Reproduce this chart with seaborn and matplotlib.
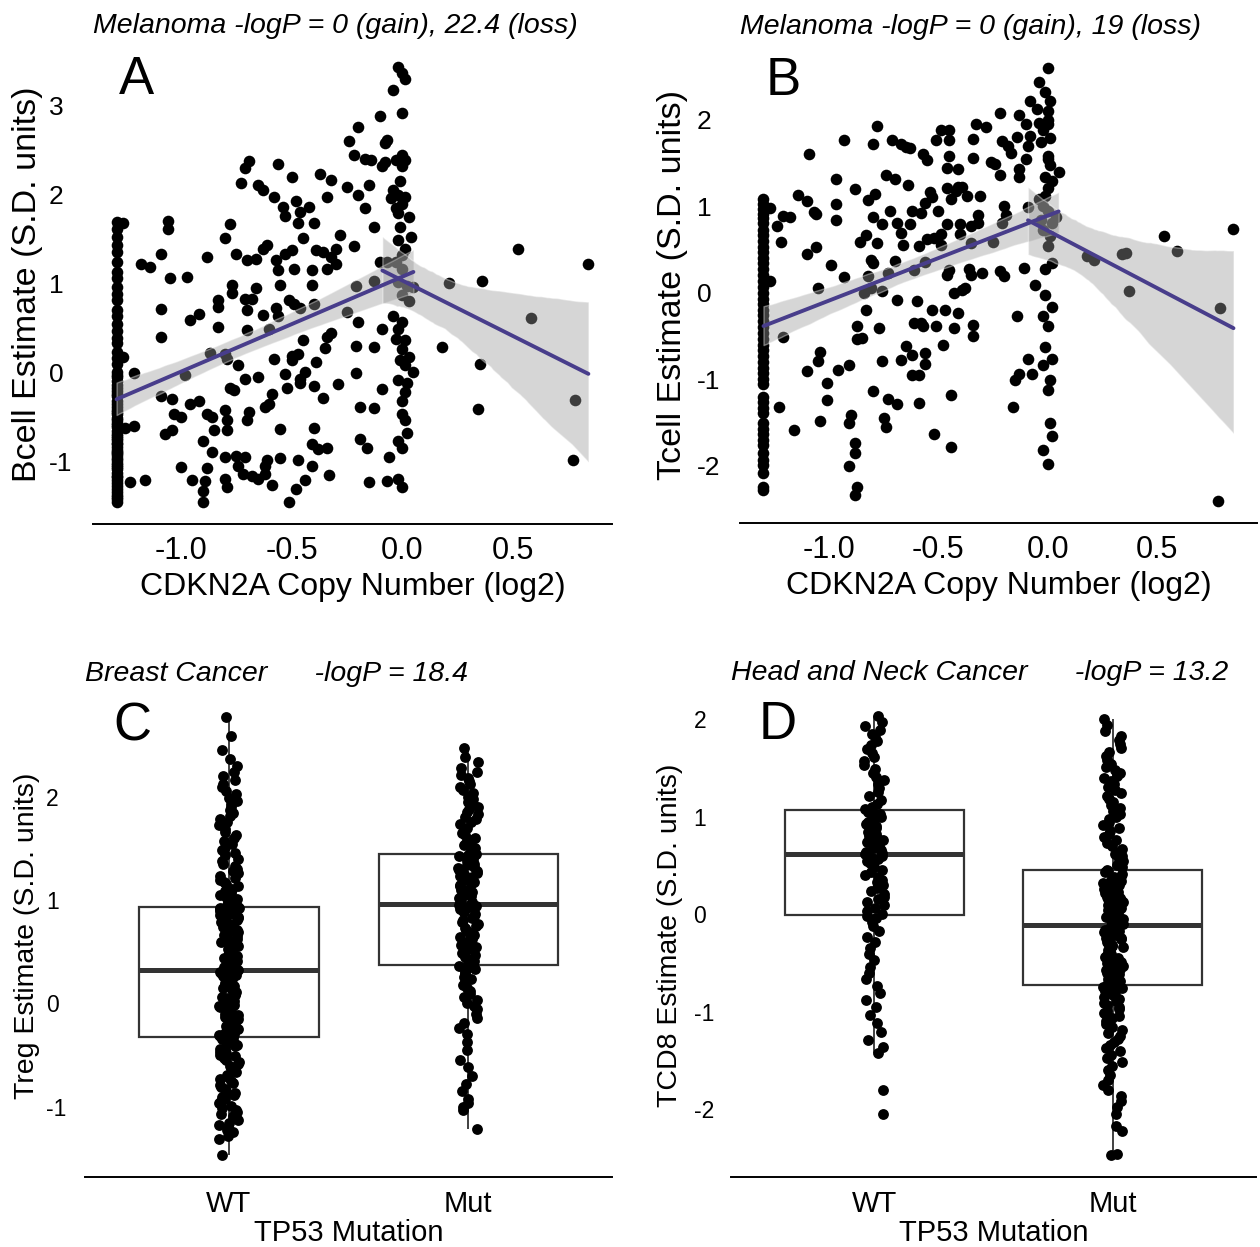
import matplotlib

matplotlib.use("Agg")
import matplotlib.pyplot as plt
import numpy as np
import pandas as pd
import seaborn as sns


OUTPUT_PATH = "out.png"
LINE_COLOR = "#483D8B"
BOX_EDGE = "#333333"
GROUPS = ["WT", "Mut"]
# copy-number calls overlap around zero, so the two fits share those points
LOSS_MAX = 0.05
GAIN_MIN = -0.095

# panel A: CDKN2A copy number (log2) vs Bcell estimate
a_points = [
    (-1.29, 1.69), (-1.29, 1.62), (-1.29, 1.53), (-1.29, 1.44), (-1.29, 1.36), (-1.29, 1.24),
    (-1.29, 1.13), (-1.29, 1.06), (-1.29, 0.96), (-1.29, 0.88), (-1.29, 0.81), (-1.29, 0.70),
    (-1.29, 0.64), (-1.29, 0.54), (-1.29, 0.47), (-1.29, 0.39), (-1.29, 0.33), (-1.29, 0.23),
    (-1.29, 0.16), (-1.29, 0.10), (-1.29, 0.01), (-1.29, -0.05), (-1.29, -0.14), (-1.29, -0.21),
    (-1.29, -0.27), (-1.29, -0.36), (-1.29, -0.42), (-1.29, -0.51), (-1.29, -0.57), (-1.29, -0.66),
    (-1.29, -0.71), (-1.29, -0.81), (-1.29, -0.87), (-1.29, -0.96), (-1.29, -1.02), (-1.29, -1.09),
    (-1.29, -1.18), (-1.29, -1.24), (-1.29, -1.34), (-1.29, -1.46),
    (-1.29, -0.32), (-1.29, -0.39), (-1.29, -0.47), (-1.29, -0.54), (-1.29, -0.61), (-1.29, -0.69),
    (-1.29, -0.76), (-1.29, -0.84), (-1.29, -0.91), (-1.29, -0.99), (-1.29, -1.06), (-1.29, -1.13),
    (-1.29, -1.21), (-1.29, -1.28), (-1.29, -1.38), (-1.29, -1.42), (-1.29, -0.03), (-1.29, -0.10),
    (-1.29, -0.18), (-1.29, -0.24), (-1.29, -0.45), (-1.29, -0.59), (-1.29, -0.74), (-1.29, -0.89),
    (-1.29, -1.04), (-1.29, -1.16), (-1.29, -1.31), (-1.29, -1.40), (-1.29, -0.79), (-1.29, -0.93),
    (-1.26, 1.68), (-1.26, 0.17), (-1.25, -0.62), (-1.21, -0.60), (-1.21, -0.01), (-1.23, -1.23),
    (-1.16, -1.21), (-1.18, 1.22), (-1.14, 1.19), (-1.09, 1.33), (-1.06, 1.71), (-1.06, 1.62),
    (-1.05, 1.06), (-1.09, 0.71), (-1.09, 0.40), (-1.09, -0.26), (-1.04, -0.30), (-1.03, -0.47),
    (-1.00, -0.50), (-1.07, -0.69), (-1.04, -0.65), (-1.00, -1.06), (-0.95, -1.21), (-0.97, 1.08),
    (-0.96, 0.59), (-0.92, 0.66), (-0.98, -0.03), (-0.96, -0.35), (-0.92, -0.32), (-0.90, -0.77),
    (-0.90, -1.33), (-0.90, -1.46), (-0.88, 1.30), (-0.88, -0.47), (-0.88, -1.07), (-0.89, -1.22),
    (-0.87, 0.22), (-0.86, -0.90), (-0.85, -0.65), (-0.86, -0.50), (-0.83, 0.81), (-0.83, 0.74),
    (-0.83, 0.51), (-0.80, -0.42), (-0.80, 1.51), (-0.78, 1.67), (-0.80, 0.21), (-0.79, 0.15),
    (-0.80, -0.95), (-0.80, -1.20), (-0.79, -1.29), (-0.79, -0.54), (-0.79, -0.65), (-0.78, -0.17),
    (-0.76, -0.20), (-0.77, 0.98), (-0.77, 0.90), (-0.75, 1.33), (-0.74, 0.08), (-0.75, -0.94),
    (-0.74, -1.05), (-0.73, 2.13), (-0.72, -1.14), (-0.71, -0.95), (-0.71, 0.83), (-0.71, -0.07),
    (-0.71, 2.30), (-0.69, 2.38), (-0.70, 1.27), (-0.70, 0.70), (-0.70, 0.48), (-0.69, -0.45),
    (-0.70, -0.54), (-0.68, -1.16), (-0.68, 0.83), (-0.66, 1.28), (-0.66, 0.95), (-0.65, -0.05),
    (-0.65, -1.20), (-0.65, 2.11), (-0.63, 2.05), (-0.63, 0.65), (-0.63, 1.39), (-0.62, -1.05),
    (-0.62, -1.14), (-0.61, -0.99), (-0.61, 1.43), (-0.62, -0.39), (-0.60, -0.35), (-0.60, 0.49),
    (-0.59, -0.24), (-0.59, -1.27), (-0.58, 1.97), (-0.58, 0.15), (-0.57, 0.72), (-0.56, 2.35),
    (-0.57, 1.27), (-0.56, 1.15), (-0.56, 0.63), (-0.55, -0.64), (-0.55, 0.98), (-0.55, -0.96),
    (-0.54, 1.86), (-0.53, 1.76), (-0.53, -0.02), (-0.53, 1.33), (-0.52, -0.17), (-0.51, 0.81),
    (-0.51, -1.46), (-0.50, 0.19), (-0.50, 0.14), (-0.50, 2.20), (-0.50, 1.38), (-0.49, 1.16),
    (-0.49, 0.77), (-0.48, -1.31), (-0.48, 1.93), (-0.47, 0.21), (-0.47, 1.68), (-0.46, 0.72),
    (-0.46, -0.07), (-0.46, 1.81), (-0.47, -0.99), (-0.46, -0.12), (-0.45, 1.51), (-0.45, 0.36),
    (-0.44, -1.21), (-0.44, 0.00), (-0.42, 1.86), (-0.41, 1.15), (-0.41, 0.99), (-0.41, -1.05),
    (-0.41, -0.80), (-0.40, 1.68), (-0.40, 0.77), (-0.40, -0.15), (-0.40, -0.62), (-0.39, 1.38),
    (-0.39, 0.12), (-0.38, -0.86), (-0.37, 2.23), (-0.36, -0.29), (-0.36, 1.36), (-0.35, 0.28),
    (-0.34, 1.17), (-0.34, 0.40), (-0.34, 1.98), (-0.34, -0.85), (-0.33, -1.15), (-0.32, 2.17),
    (-0.32, 1.30), (-0.32, 0.44), (-0.30, 1.39), (-0.30, 1.22), (-0.29, -0.13), (-0.28, 1.55),
    (-0.25, 2.09), (-0.25, 0.68), (-0.24, 2.60), (-0.22, 2.45), (-0.22, 1.42), (-0.21, 0.30),
    (-0.21, -0.01), (-0.21, 0.97), (-0.20, 2.00), (-0.20, 0.57), (-0.20, 2.76), (-0.19, -0.39),
    (-0.19, -0.75), (-0.17, 2.40), (-0.17, 1.85), (-0.16, -0.85), (-0.15, 2.11), (-0.15, -1.23),
    (-0.14, 2.39), (-0.13, 0.29), (-0.13, 1.03), (-0.13, -0.40), (-0.13, 1.64), (-0.10, 1.24),
    (-0.10, 2.89), (-0.09, 2.32), (-0.09, 0.49), (-0.09, -0.19), (-0.08, 2.58), (-0.07, 2.62),
    (-0.08, 2.37), (-0.07, 1.24), (-0.07, -1.22), (-0.06, -0.95),
    (-0.02, 3.44), (0.00, 3.37), (0.01, 3.30), (-0.04, 3.18), (0.00, 2.92), (0.00, 2.45),
    (0.01, 2.39), (-0.03, 2.39), (0.00, 2.32), (-0.01, 2.15), (-0.04, 2.05), (-0.02, 2.00),
    (0.01, 1.98), (-0.05, 1.96), (0.00, 1.90), (-0.03, 1.85), (-0.02, 1.79), (0.03, 1.75),
    (-0.01, 1.64), (0.04, 1.52), (-0.02, 1.49), (0.01, 1.39), (0.00, 1.32), (-0.03, 1.24),
    (0.00, 1.16), (-0.02, 1.02), (0.02, 0.97), (0.05, 0.96), (0.00, 0.87), (0.03, 0.80),
    (-0.04, 0.64), (0.00, 0.57), (-0.02, 0.49), (-0.03, 0.38), (0.01, 0.36), (0.00, 0.26),
    (0.03, 0.17), (-0.01, 0.14), (0.01, 0.08), (0.05, 0.00), (-0.02, -0.08), (0.02, -0.12),
    (0.01, -0.22), (0.00, -0.47), (0.01, -0.54), (0.02, -0.68), (-0.02, -0.77), (0.00, -0.85),
    (-0.02, -1.20), (0.00, -1.29), (0.00, -0.32),
    (0.18, 0.29), (0.21, 1.01), (0.36, 1.03), (0.52, 1.39), (0.58, 0.61), (0.35, 0.09),
    (0.34, -0.41), (0.78, -0.31), (0.77, -0.98), (0.84, 1.22),
]

# panel B: CDKN2A copy number (log2) vs Tcell estimate
b_points = [
    (-1.30, 1.08), (-1.30, 1.03), (-1.30, 0.97), (-1.30, 0.91), (-1.30, 0.86), (-1.30, 0.80),
    (-1.30, 0.73), (-1.30, 0.67), (-1.30, 0.60), (-1.30, 0.53), (-1.30, 0.47), (-1.30, 0.40),
    (-1.30, 0.34), (-1.30, 0.27), (-1.30, 0.20), (-1.30, 0.13), (-1.30, 0.07), (-1.30, 0.00),
    (-1.30, -0.07), (-1.30, -0.13), (-1.30, -0.20), (-1.30, -0.26), (-1.30, -0.33), (-1.30, -0.40),
    (-1.30, -0.47), (-1.30, -0.53), (-1.30, -0.60), (-1.30, -0.66), (-1.30, -0.73), (-1.30, -0.80),
    (-1.30, -0.87), (-1.30, -0.93), (-1.30, -1.00), (-1.30, -1.06), (-1.30, -1.20), (-1.30, -1.26),
    (-1.30, -1.33), (-1.30, -1.39), (-1.30, -1.51), (-1.30, -1.57), (-1.30, -1.63), (-1.30, -1.70),
    (-1.30, -1.76), (-1.30, -1.85), (-1.30, -1.93), (-1.30, -1.99), (-1.30, -2.08), (-1.30, -2.24),
    (-1.30, -2.28),
    (-1.27, 0.98), (-1.27, 0.13), (-1.24, 0.77), (-1.22, 0.59), (-1.23, -1.32), (-1.21, -0.51),
    (-1.21, 0.89), (-1.18, 0.87), (-1.16, -1.59), (-1.14, 1.13), (-1.10, 1.06), (-1.09, 1.60),
    (-1.10, 0.45), (-1.07, 0.93), (-1.06, 0.91), (-1.06, 0.53), (-1.05, 0.05), (-1.04, -0.68),
    (-1.05, -0.79), (-1.10, -0.90), (-1.04, -1.48), (-1.01, -1.04), (-1.01, -1.24), (-0.99, 0.32),
    (-0.97, 1.31), (-0.97, 1.02), (-0.97, 0.84), (-0.96, -0.89), (-0.93, 1.76), (-0.93, 0.18),
    (-0.91, -0.84), (-0.91, -2.00), (-0.91, -1.51), (-0.90, -1.41), (-0.88, 1.20), (-0.88, -1.74),
    (-0.88, -1.85), (-0.87, -0.38), (-0.87, -0.54), (-0.87, -2.25), (-0.88, -2.34), (-0.86, 0.59),
    (-0.85, -0.52), (-0.84, 0.00), (-0.83, -0.20), (-0.83, 0.67), (-0.82, 0.19), (-0.82, 1.07),
    (-0.81, 0.38), (-0.81, 0.05), (-0.80, -1.13), (-0.80, 1.72), (-0.80, 0.88), (-0.80, 0.34),
    (-0.79, 1.14), (-0.78, 1.93), (-0.78, 0.57), (-0.77, -0.41), (-0.76, -0.79), (-0.76, 0.79),
    (-0.76, 0.02), (-0.75, -1.45), (-0.74, 1.36), (-0.74, -1.55), (-0.73, 0.23), (-0.73, -1.23),
    (-0.72, 0.94), (-0.71, 1.77), (-0.70, 1.31), (-0.70, 0.37), (-0.69, -0.08), (-0.69, -1.28),
    (-0.69, 0.81), (-0.67, 1.72), (-0.67, 0.69), (-0.67, -0.78), (-0.66, 0.55), (-0.65, 1.68),
    (-0.65, -0.61), (-0.64, 1.24), (-0.63, 0.79), (-0.63, 1.67), (-0.62, -0.72), (-0.62, 0.94),
    (-0.62, -0.95), (-0.61, 0.26), (-0.61, -0.35), (-0.60, -0.10), (-0.59, 0.54), (-0.59, -1.27),
    (-0.59, -0.95), (-0.58, 0.92), (-0.58, -0.35), (-0.57, 1.60), (-0.57, -0.39), (-0.56, 0.35),
    (-0.56, -0.70), (-0.56, 1.04), (-0.56, -0.82), (-0.55, 1.53), (-0.55, 0.62), (-0.54, 1.16),
    (-0.53, -0.20), (-0.53, 1.11), (-0.52, 0.63), (-0.52, -1.63), (-0.51, 1.76), (-0.51, -0.38),
    (-0.50, 0.95), (-0.49, 0.55), (-0.49, 1.88), (-0.49, 0.68), (-0.48, -0.60), (-0.47, -0.20),
    (-0.46, 0.79), (-0.46, 1.44), (-0.46, 0.21), (-0.46, 1.21), (-0.45, 1.58), (-0.45, 1.88),
    (-0.45, 1.77), (-0.45, 0.26), (-0.44, -1.18), (-0.44, -1.78), (-0.44, 1.08), (-0.43, -0.41),
    (-0.43, 0.00), (-0.42, 1.17), (-0.41, -0.24), (-0.41, 1.43), (-0.41, 1.22), (-0.40, 0.79),
    (-0.40, 0.68), (-0.39, 0.03), (-0.39, 1.22), (-0.38, 0.05), (-0.37, 1.12), (-0.36, 0.27),
    (-0.35, 0.20), (-0.35, 0.77), (-0.35, 0.57), (-0.34, 1.78), (-0.34, 1.56), (-0.34, -0.37),
    (-0.34, -0.50), (-0.33, 1.95), (-0.32, 0.90), (-0.32, 0.81), (-0.31, 1.12), (-0.30, 0.23),
    (-0.28, 1.92), (-0.26, 1.51), (-0.25, 0.59), (-0.24, 1.49), (-0.22, 1.36), (-0.22, 2.08),
    (-0.22, 0.25), (-0.21, 1.75), (-0.21, 0.81), (-0.20, 0.19), (-0.20, 1.00), (-0.19, 0.90),
    (-0.18, 1.70), (-0.17, 1.61), (-0.16, -1.32), (-0.15, -1.01), (-0.14, 1.80), (-0.14, -0.27),
    (-0.13, -0.94), (-0.13, 1.34), (-0.13, 1.43), (-0.13, 2.05), (-0.11, 0.29), (-0.10, 1.95),
    (-0.10, 1.54), (-0.09, 1.69), (-0.09, -0.76), (-0.09, 0.99), (-0.08, 2.22), (-0.07, -0.94),
    (-0.06, 0.09), (-0.08, 1.81),
    (0.00, 2.60), (-0.04, 2.43), (-0.01, 2.32), (0.01, 2.22), (-0.05, 2.12), (0.00, 2.10),
    (0.00, 2.00), (-0.04, 1.96), (0.00, 1.95), (-0.02, 1.88), (0.01, 1.79), (-0.03, 1.74),
    (0.00, 1.58), (0.00, 1.54), (0.01, 1.47), (0.05, 1.39), (-0.01, 1.34), (0.02, 1.29),
    (0.00, 1.21), (-0.01, 1.12), (-0.04, 1.08), (-0.02, 1.00), (0.00, 0.94), (0.04, 0.88),
    (-0.03, 0.84), (0.02, 0.80), (-0.02, 0.73), (0.01, 0.65), (0.00, 0.54), (0.02, 0.34),
    (-0.01, 0.27), (-0.01, -0.03), (0.02, -0.17), (-0.02, -0.27), (0.00, -0.39), (-0.01, -0.63),
    (0.02, -0.76), (-0.02, -0.84), (0.01, -1.01), (0.00, -1.12), (0.01, -1.50), (0.02, -1.65),
    (-0.02, -1.82), (0.00, -1.98),
    (0.18, 0.42), (0.21, 0.38), (0.34, 0.45), (0.36, 0.46), (0.37, 0.02), (0.53, 0.66),
    (0.59, 0.48), (0.79, -0.18), (0.85, 0.74), (0.78, -2.41),
]

# panel C: Treg estimate by TP53 status (breast cancer)
c_wt = [
    -1.47, -1.31, -1.28, -1.25, -1.23, -1.20, -1.18, -1.16, -1.13, -1.11,
    -1.09, -1.07, -1.05, -1.03, -1.01, -0.99, -0.97, -0.95, -0.93, -0.91,
    -0.89, -0.87, -0.85, -0.83, -0.81, -0.79, -0.77, -0.75, -0.73, -0.71,
    -0.69, -0.67, -0.65, -0.63, -0.61, -0.59, -0.57, -0.55, -0.53, -0.51,
    -0.50, -0.48, -0.47, -0.45, -0.44, -0.43, -0.41, -0.40, -0.39, -0.38,
    -0.37, -0.36, -0.35, -0.345, -0.34,
    -0.32, -0.31, -0.30, -0.29, -0.27, -0.26, -0.25, -0.24, -0.22, -0.21,
    -0.20, -0.19, -0.17, -0.16, -0.15, -0.13, -0.12, -0.11, -0.10, -0.08,
    -0.07, -0.06, -0.04, -0.03, -0.02, 0.00, 0.01, 0.02, 0.04, 0.05,
    0.06, 0.08, 0.09, 0.10, 0.11, 0.13, 0.14, 0.15, 0.17, 0.18,
    0.19, 0.20, 0.22, 0.23, 0.24, 0.25, 0.26, 0.27, 0.28, 0.29,
    0.295, 0.30, 0.305, 0.31, 0.315,
    0.325, 0.34, 0.35, 0.36, 0.37, 0.39, 0.40, 0.41, 0.42, 0.44,
    0.45, 0.46, 0.47, 0.49, 0.50, 0.51, 0.52, 0.54, 0.55, 0.56,
    0.57, 0.59, 0.60, 0.61, 0.62, 0.64, 0.65, 0.66, 0.67, 0.69,
    0.70, 0.71, 0.72, 0.74, 0.75, 0.76, 0.77, 0.79, 0.80, 0.81,
    0.82, 0.83, 0.84, 0.85, 0.86, 0.87, 0.88, 0.89, 0.90, 0.905,
    0.91, 0.915, 0.92, 0.922, 0.925,
    0.935, 0.95, 0.97, 0.99, 1.01, 1.03, 1.05, 1.07, 1.09, 1.11,
    1.13, 1.15, 1.17, 1.19, 1.21, 1.23, 1.26, 1.28, 1.30, 1.33,
    1.35, 1.38, 1.40, 1.43, 1.45, 1.48, 1.51, 1.54, 1.57, 1.60,
    1.63, 1.66, 1.69, 1.72, 1.75, 1.78, 1.81, 1.84, 1.87, 1.90,
    1.93, 1.96, 1.99, 2.02, 2.05, 2.09, 2.12, 2.16, 2.20, 2.24,
    2.30, 2.36, 2.45, 2.59, 2.77,
]
c_mut = [
    -1.22, -1.03, -1.00, -0.97, -0.93, -0.85, -0.78, -0.70, -0.62, -0.55,
    -0.45, -0.38, -0.30, -0.24, -0.19, -0.14, -0.10, -0.06, -0.03, 0.00,
    0.03, 0.06, 0.09, 0.12, 0.15, 0.18, 0.21, 0.23, 0.25, 0.27,
    0.29, 0.31, 0.33, 0.35, 0.365,
    0.375, 0.39, 0.41, 0.43, 0.45, 0.47, 0.49, 0.51, 0.52, 0.54,
    0.56, 0.58, 0.60, 0.62, 0.64, 0.66, 0.67, 0.69, 0.71, 0.73,
    0.75, 0.77, 0.79, 0.81, 0.82, 0.84, 0.86, 0.88, 0.89, 0.91,
    0.92, 0.93, 0.94, 0.95, 0.955,
    0.965, 0.98, 0.99, 1.01, 1.02, 1.04, 1.05, 1.07, 1.08, 1.10,
    1.11, 1.13, 1.14, 1.16, 1.17, 1.19, 1.20, 1.22, 1.23, 1.25,
    1.26, 1.28, 1.29, 1.31, 1.32, 1.34, 1.35, 1.37, 1.38, 1.40,
    1.41, 1.42, 1.43, 1.44, 1.445,
    1.455, 1.48, 1.50, 1.53, 1.55, 1.58, 1.60, 1.63, 1.65, 1.68,
    1.70, 1.73, 1.75, 1.78, 1.80, 1.83, 1.85, 1.88, 1.90, 1.93,
    1.95, 1.98, 2.00, 2.03, 2.06, 2.09, 2.12, 2.15, 2.18, 2.21,
    2.24, 2.28, 2.33, 2.38, 2.47,
]

# panel D: TCD8 estimate by TP53 status (head and neck cancer)
d_wt = [
    -2.05, -1.80, -1.42, -1.36, -1.29, -1.21, -1.12, -1.03, -0.95, -0.88,
    -0.81, -0.74, -0.67, -0.60, -0.54, -0.47, -0.41, -0.35, -0.29, -0.23,
    -0.17, -0.12, -0.08, -0.04, -0.02,
    0.00, 0.03, 0.06, 0.09, 0.12, 0.15, 0.18, 0.21, 0.24, 0.27,
    0.30, 0.33, 0.35, 0.38, 0.40, 0.43, 0.45, 0.48, 0.50, 0.52,
    0.54, 0.56, 0.58, 0.60, 0.615,
    0.625, 0.64, 0.66, 0.68, 0.70, 0.72, 0.74, 0.76, 0.78, 0.80,
    0.82, 0.84, 0.86, 0.88, 0.90, 0.92, 0.94, 0.96, 0.98, 1.00,
    1.02, 1.03, 1.04, 1.05, 1.065,
    1.075, 1.10, 1.13, 1.17, 1.21, 1.25, 1.29, 1.33, 1.37, 1.41,
    1.45, 1.49, 1.53, 1.57, 1.61, 1.65, 1.69, 1.73, 1.77, 1.81,
    1.85, 1.89, 1.93, 1.97, 2.03,
]
d_mut = [
    -2.47, -2.46, -2.22, -2.17, -2.05, -1.98, -1.92, -1.86, -1.80, -1.75,
    -1.70, -1.65, -1.60, -1.56, -1.52, -1.48, -1.44, -1.40, -1.37, -1.34,
    -1.31, -1.28, -1.25, -1.22, -1.19, -1.16, -1.13, -1.10, -1.07, -1.04,
    -1.01, -0.99, -0.97, -0.95, -0.93, -0.91, -0.89, -0.87, -0.85, -0.83,
    -0.81, -0.80, -0.79, -0.78, -0.77, -0.76, -0.75, -0.745, -0.74, -0.735,
    -0.725, -0.71, -0.70, -0.69, -0.67, -0.66, -0.65, -0.64, -0.62, -0.61,
    -0.60, -0.58, -0.57, -0.56, -0.54, -0.53, -0.52, -0.50, -0.49, -0.48,
    -0.46, -0.45, -0.44, -0.42, -0.41, -0.40, -0.38, -0.37, -0.36, -0.34,
    -0.33, -0.32, -0.30, -0.29, -0.28, -0.26, -0.25, -0.24, -0.22, -0.21,
    -0.20, -0.19, -0.18, -0.17, -0.16, -0.15, -0.14, -0.13, -0.12, -0.115,
    -0.105, -0.09, -0.08, -0.07, -0.06, -0.05, -0.04, -0.03, -0.02, -0.01,
    0.00, 0.01, 0.02, 0.03, 0.04, 0.05, 0.06, 0.07, 0.08, 0.09,
    0.10, 0.11, 0.12, 0.13, 0.14, 0.15, 0.16, 0.17, 0.18, 0.19,
    0.20, 0.21, 0.22, 0.23, 0.24, 0.25, 0.26, 0.28, 0.29, 0.30,
    0.31, 0.32, 0.34, 0.35, 0.36, 0.38, 0.39, 0.41, 0.43, 0.445,
    0.455, 0.48, 0.50, 0.52, 0.54, 0.56, 0.58, 0.60, 0.62, 0.64,
    0.67, 0.70, 0.73, 0.76, 0.79, 0.82, 0.85, 0.88, 0.91, 0.94,
    0.97, 1.00, 1.03, 1.06, 1.09, 1.12, 1.15, 1.18, 1.21, 1.24,
    1.27, 1.30, 1.33, 1.36, 1.39, 1.42, 1.45, 1.48, 1.51, 1.54,
    1.58, 1.62, 1.66, 1.70, 1.74, 1.78, 1.83, 1.88, 1.94, 2.00,
]

cn_ticks = [-1.0, -0.5, 0.0, 0.5]
a_yticks = [-1, 0, 1, 2, 3]
b_yticks = [-2, -1, 0, 1, 2]
c_yticks = [-1, 0, 1, 2]
d_yticks = [-2, -1, 0, 1, 2]


def expand(values, frac=0.05):
    lo, hi = min(values), max(values)
    pad = (hi - lo) * frac
    return lo - pad, hi + pad


def style_axes(ax, xtick_size, ytick_size, ypad):
    for side in ("top", "right", "left"):
        ax.spines[side].set_visible(False)
    ax.spines["bottom"].set_linewidth(1.4)
    ax.spines["bottom"].set_color("black")
    ax.tick_params(axis="x", direction="in", length=8.5, width=1.3, pad=9,
                   labelsize=xtick_size, colors="black")
    ax.tick_params(axis="y", length=0, pad=ypad, labelsize=ytick_size, colors="black")
    for tick in ax.yaxis.get_major_ticks():
        tick.label1.set_horizontalalignment("left")
    ax.grid(False)


def copy_number_panel(ax, points, ylabel, yticks, title, letter, ylabel_x, ypad):
    df = pd.DataFrame(points, columns=["cn", "est"])
    sns.scatterplot(data=df, x="cn", y="est", color="black", s=70, linewidth=0, ax=ax)
    for mask in (df["cn"] <= LOSS_MAX, df["cn"] >= GAIN_MIN):
        sns.regplot(data=df[mask], x="cn", y="est", scatter=False, ci=95, seed=1,
                    color=LINE_COLOR, line_kws={"lw": 2.8}, ax=ax)
        band = ax.collections[-1]
        band.set_facecolor("#999999")
        band.set_alpha(0.4)
    ax.set_xlim(*expand(df["cn"]))
    ax.set_ylim(*expand(df["est"]))
    ax.set_xticks(cn_ticks)
    ax.set_xticklabels([f"{t:.1f}" for t in cn_ticks])
    ax.set_yticks(yticks)
    ax.set_yticklabels([str(t) for t in yticks])
    style_axes(ax, 22, 19, ypad)
    ax.set_xlabel("CDKN2A Copy Number (log2)", fontsize=23, labelpad=4)
    ax.set_ylabel(ylabel, fontsize=24.5)
    ax.yaxis.label.set_va("center")
    ax.yaxis.set_label_coords(ylabel_x, 0.5)
    ax.set_title(title, loc="left", fontstyle="italic", fontsize=20.5, pad=9)
    ax.text(0.05, 0.897, letter, transform=ax.transAxes, fontsize=38,
            ha="left", va="baseline")


def mutation_panel(ax, wt, mut, ylabel, yticks, title, letter, ylabel_x, ypad):
    df = pd.DataFrame({"tp53": ["WT"] * len(wt) + ["Mut"] * len(mut), "est": wt + mut})
    sns.boxplot(data=df, x="tp53", y="est", order=GROUPS, color="white", linecolor=BOX_EDGE,
                linewidth=1.6, width=0.75, showcaps=False, showfliers=False,
                medianprops={"linewidth": 3.6}, whiskerprops={"linewidth": 1.3}, ax=ax)
    sns.stripplot(data=df, x="tp53", y="est", order=GROUPS, color="black", size=7.8,
                  jitter=0.042, linewidth=0, ax=ax, zorder=3)
    ax.set_xlim(-0.6, 1.6)
    ax.set_ylim(*expand(df["est"]))
    ax.set_yticks(yticks)
    ax.set_yticklabels([str(t) for t in yticks])
    style_axes(ax, 21, 16.5, ypad)
    ax.set_xlabel("TP53 Mutation", fontsize=21, labelpad=1)
    ax.set_ylabel(ylabel, fontsize=20.5)
    ax.yaxis.label.set_va("center")
    ax.yaxis.set_label_coords(ylabel_x, 0.5)
    ax.set_title(title, loc="left", fontstyle="italic", fontsize=20.5, pad=10)
    ax.text(0.053, 0.906, letter, transform=ax.transAxes, fontsize=38,
            ha="left", va="baseline")


def main() -> None:
    sns.set_style("white")
    plt.rcParams["font.family"] = ["Liberation Sans", "DejaVu Sans"]
    plt.rcParams["axes.unicode_minus"] = False
    for key in ("text.color", "axes.labelcolor", "xtick.color", "ytick.color"):
        plt.rcParams[key] = "black"
    np.random.seed(11)  # stripplot jitter only

    fig = plt.figure(figsize=(12.6, 12.47), dpi=100)
    ax_a = fig.add_axes([0.0738, 0.5798, 0.4119, 0.3841])
    ax_b = fig.add_axes([0.5873, 0.5806, 0.4103, 0.3825])
    ax_c = fig.add_axes([0.0675, 0.0561, 0.4183, 0.3865])
    ax_d = fig.add_axes([0.5802, 0.0561, 0.4167, 0.3873])

    copy_number_panel(ax_a, a_points, "Bcell Estimate (S.D. units)", a_yticks,
                      "Melanoma -logP = 0 (gain), 22.4 (loss)", "A", -0.127, 32)
    copy_number_panel(ax_b, b_points, "Tcell Estimate (S.D. units)", b_yticks,
                      "Melanoma -logP = 0 (gain), 19 (loss)", "B", -0.130, 31)
    mutation_panel(ax_c, c_wt, c_mut, "Treg Estimate (S.D. units)", c_yticks,
                   "Breast Cancer      -logP = 18.4", "C", -0.110, 28)
    mutation_panel(ax_d, d_wt, d_mut, "TCD8 Estimate (S.D. units)", d_yticks,
                   "Head and Neck Cancer      -logP = 13.2", "D", -0.116, 27)

    fig.savefig(OUTPUT_PATH, dpi=100)
    plt.close(fig)


if __name__ == "__main__":
    main()
